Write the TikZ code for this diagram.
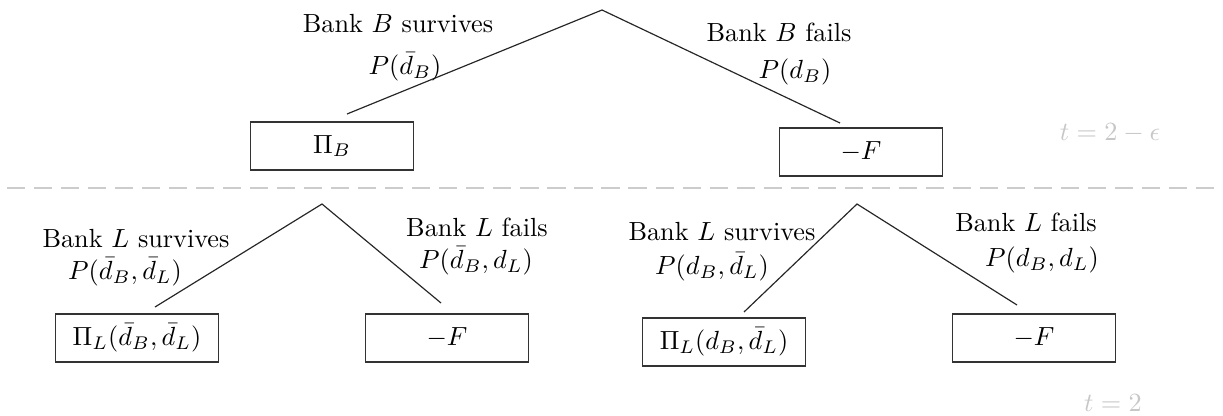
\documentclass[tikz,border=0pt]{standalone}
\usepackage{amsmath}
\usepackage{amssymb}
\usepackage{xcolor}
\usepackage{tikz}
\usetikzlibrary{positioning}

\begin{document}
\begin{tikzpicture}[
      x = 0.0134cm, y = -0.0134cm, font = \normalsize,
      payoff/.style = {draw = black!80, line width = .6pt, minimum width = 2.18cm,
                       minimum height = .65cm, inner sep = 2pt},
      branch/.style = {black!85, line width = .45pt},
      lbl/.style    = {inner sep = 1pt},
      period/.style = {text = black!22, inner sep = 1pt},
      sep/.style    = {black!20, line width = .6pt, dash pattern = on 6.9pt off 3.4pt}
    ]
  \useasboundingbox (0,0) rectangle (1223,415);

  % ---------- first stage: bank B ----------------------------------------
  \coordinate (rootB) at (602,10);
  \node[payoff] (PiB)   at (332,146) {$\Pi_B$};
  \node[payoff] (failB) at (861,152) {$-F$};
  \coordinate (endPiB)   at (347,114);
  \coordinate (endfailB) at (840,123);
  \draw[branch] (endPiB) -- (rootB) -- (endfailB);

  \node[lbl] (survB)  at (398,24) {Bank $B$ survives};
  \node[lbl] (psurvB) at (405,67) {$P(\bar{d}_B)$};
  \node[lbl] (fB)     at (779,32) {Bank $B$ fails};
  \node[lbl] (pfB)    at (795,72) {$P(d_B)$};

  \node[period] (tfirst) at (1110,133) {$t=2-\epsilon$};

  % ---------- period separator -------------------------------------------
  \coordinate (sepL) at (7,188);
  \coordinate (sepR) at (1223,188);
  \draw[sep] (sepL) -- (sepR);

  % ---------- second stage, B survived -----------------------------------
  \coordinate (rootL1) at (322,204);
  \node[payoff] (PiL1)   at (137,338) {$\Pi_L(\bar{d}_B,\bar{d}_L)$};
  \node[payoff] (failL1) at (447,338) {$-F$};
  \coordinate (endPiL1)   at (155,307);
  \coordinate (endfailL1) at (441,303);
  \draw[branch] (endPiL1) -- (rootL1) -- (endfailL1);

  \node[lbl] (survL1)  at (136,239) {Bank $L$ survives};
  \node[lbl] (psurvL1) at (125,272) {$P(\bar{d}_B,\bar{d}_L)$};
  \node[lbl] (fL1)     at (477,227) {Bank $L$ fails};
  \node[lbl] (pfL1)    at (476,261) {$P(\bar{d}_B,d_L)$};

  % ---------- second stage, B failed -------------------------------------
  \coordinate (rootL2) at (857,204);
  \node[payoff] (PiL2)   at (724,342) {$\Pi_L(d_B,\bar{d}_L)$};
  \node[payoff] (failL2) at (1034,338) {$-F$};
  \coordinate (endPiL2)   at (744,312);
  \coordinate (endfailL2) at (1017,305);
  \draw[branch] (endPiL2) -- (rootL2) -- (endfailL2);

  \node[lbl] (survL2)  at (722,232) {Bank $L$ survives};
  \node[lbl] (psurvL2) at (712,267) {$P(d_B,\bar{d}_L)$};
  \node[lbl] (fL2)     at (1026,222) {Bank $L$ fails};
  \node[lbl] (pfL2)    at (1042,260) {$P(d_B,d_L)$};

  \node[period] (tsecond) at (1113,403) {$t=2$};

\end{tikzpicture}
\end{document}
